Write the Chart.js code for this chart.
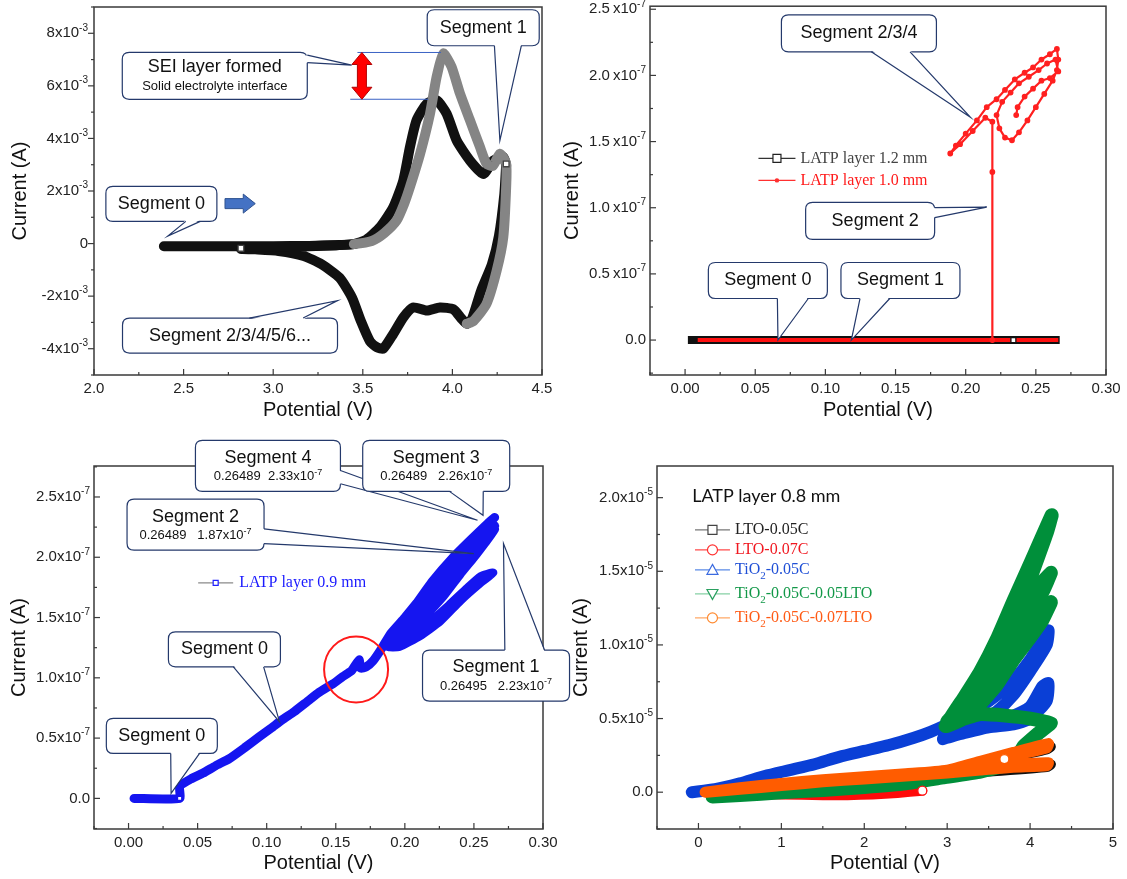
<!DOCTYPE html>
<html>
<head>
<meta charset="utf-8">
<script src="https://cdn.jsdelivr.net/npm/chart.js"></script>
<style>
  html, body { margin: 0; padding: 0; background: #fff; }
  #page { position: relative; width: 1127px; height: 879px; overflow: hidden; background: #fff; }
  canvas { position: absolute; }
</style>
</head>
<body>
<div id="page">
  <canvas id="cvA" width="560" height="430" style="left:0px;top:0px"></canvas>
  <canvas id="cvB" width="567" height="430" style="left:560px;top:0px"></canvas>
  <canvas id="cvC" width="580" height="449" style="left:0px;top:430px"></canvas>
  <canvas id="cvD" width="567" height="449" style="left:560px;top:430px"></canvas>
</div>
<script>
/* Panel A - CV, current in units of 1e-3 A */
var aSweepV = [2.39, 2.60, 2.80, 3.00, 3.20, 3.35, 3.45, 3.55, 3.62, 3.689, 3.73, 3.763, 3.82, 3.875, 3.912, 3.949, 3.995, 4.042, 4.098, 4.154, 4.19, 4.225, 4.266, 4.30, 4.30, 4.284, 4.247, 4.19, 4.117, 4.08];
var aSweepI = [-0.10, -0.10, -0.10, -0.10, -0.09, -0.06, -0.02, 0.10, 0.40, 0.88, 1.50, 2.15, 3.42, 4.94, 6.34, 7.23, 6.73, 5.71, 4.69, 3.67, 3.04, 2.95, 3.42, 3.04, 2.15, 0.24, -1.03, -2.30, -2.95, -3.05];
var aCycleV = [4.30, 4.29, 4.26, 4.22, 4.16, 4.11, 4.08, 4.05, 4.005, 3.93, 3.857, 3.78, 3.726, 3.67, 3.614, 3.58, 3.54, 3.49, 3.44, 3.37, 3.27, 3.17, 3.03, 2.90, 2.82,
               3.00, 3.20, 3.35, 3.45, 3.52, 3.596, 3.67, 3.726, 3.763, 3.80, 3.857, 3.912, 3.968, 4.024, 4.098, 4.173, 4.228, 4.284, 4.30];
var aCycleI = [3.00, 1.90, 0.30, -0.80, -1.80, -2.85, -3.05, -2.85, -2.50, -2.43, -2.55, -2.43, -2.81, -3.44, -4.00, -3.95, -3.72, -2.96, -2.06, -1.30, -0.79, -0.47, -0.28, -0.22, -0.20,
               -0.14, -0.10, -0.06, -0.02, 0.15, 0.62, 1.38, 2.40, 3.67, 4.69, 5.32, 5.45, 4.94, 3.92, 3.16, 2.65, 3.16, 3.29, 3.00];
var aMarkV = [2.82, 4.30];
var aMarkI = [-0.18, 3.03];

/* Panel B - LATP 1.2 / 1.0 mm, units of 1e-7 A */
var bThickV = [0.002, 0.267];
var bThickI = [0, 0];
var bFlatV = [0.009, 0.219, 0.266];
var bFlatI = [0, 0, 0];
var bLoopV = [0.219, 0.219, 0.219, 0.214, 0.205, 0.196, 0.189, 0.193, 0.200, 0.208, 0.215, 0.222, 0.228, 0.235, 0.242, 0.248, 0.254, 0.260, 0.265, 0.266, 0.265, 0.262,
              0.256, 0.250, 0.244, 0.238, 0.233, 0.228, 0.224, 0.222, 0.226, 0.232, 0.238, 0.245, 0.252, 0.258, 0.264, 0.266, 0.260, 0.254, 0.248, 0.242, 0.237, 0.236];
var bLoopI = [0.00, 1.27, 1.65, 1.68, 1.58, 1.48, 1.41, 1.47, 1.56, 1.66, 1.76, 1.82, 1.89, 1.97, 2.02, 2.06, 2.12, 2.16, 2.20, 2.12, 2.04, 1.96,
              1.86, 1.76, 1.66, 1.57, 1.51, 1.53, 1.60, 1.70, 1.80, 1.87, 1.94, 1.99, 2.04, 2.09, 2.12, 2.03, 1.98, 1.96, 1.90, 1.84, 1.76, 1.70];
var bMarkV = [0.234];
var bMarkI = [0];

/* Panel C - LATP 0.9 mm, units of 1e-7 A */
var cV = [0.004, 0.037, 0.037, 0.045, 0.054, 0.063, 0.073, 0.084, 0.0945, 0.103, 0.111, 0.120, 0.129, 0.138, 0.148, 0.155, 0.1615, 0.1669, 0.168, 0.172,
          0.177, 0.183, 0.190, 0.200, 0.210, 0.220, 0.230, 0.240, 0.250, 0.258, 0.265, 0.258, 0.250, 0.240, 0.228, 0.215, 0.200, 0.188, 0.196, 0.211,
          0.2254, 0.240, 0.2543, 0.2637, 0.255, 0.245, 0.232, 0.218, 0.205, 0.192, 0.205, 0.220, 0.235, 0.250, 0.260, 0.265, 0.258, 0.248, 0.238, 0.225,
          0.210, 0.195, 0.205, 0.220, 0.235, 0.250, 0.260, 0.265];
var cI = [0.00, 0.00, 0.10, 0.16, 0.21, 0.27, 0.33, 0.42, 0.51, 0.58, 0.65, 0.72, 0.80, 0.88, 0.95, 1.01, 1.06, 1.15, 1.08, 1.09,
          1.14, 1.24, 1.37, 1.50, 1.64, 1.78, 1.91, 2.03, 2.12, 2.18, 2.23, 2.12, 2.00, 1.86, 1.68, 1.52, 1.36, 1.26, 1.26, 1.35,
          1.47, 1.64, 1.785, 1.87, 1.84, 1.74, 1.60, 1.46, 1.36, 1.28, 1.52, 1.75, 1.96, 2.12, 2.21, 2.26, 2.16, 2.04, 1.92, 1.75,
          1.56, 1.40, 1.56, 1.80, 2.00, 2.17, 2.28, 2.33];
var cMarkV = [0.037];
var cMarkI = [0];

/* Panel D - LATP 0.8 mm, units of 1e-5 A */
var dBlackV = [0.10, 0.50, 1.00, 1.50, 2.00, 2.50, 3.00, 3.50, 4.00, 4.25, 4.20, 3.80, 3.50, 3.80, 4.25, 4.20, 3.50, 3.00, 2.00, 1.00, 0.10];
var dBlackI = [0.00, 0.025, 0.05, 0.075, 0.10, 0.12, 0.145, 0.20, 0.27, 0.31, 0.29, 0.24, 0.18, 0.18, 0.19, 0.17, 0.14, 0.12, 0.085, 0.04, 0.00];
var dRedV = [0.10, 0.50, 1.00, 1.50, 1.80, 2.10, 2.40, 2.70];
var dRedI = [0.00, -0.01, -0.015, -0.02, -0.02, -0.015, -0.005, 0.01];
var dBlueV = [-0.08, 0.20, 0.50, 0.80, 1.10, 1.40, 1.70, 2.00, 2.30, 2.60, 2.80, 3.00, 3.20, 3.40, 3.60, 3.80, 4.00, 4.22, 4.20, 4.00,
              3.80, 3.60, 3.40, 3.20, 3.00, 2.95, 3.20, 3.50, 3.80, 4.00, 4.15, 4.22, 4.20, 4.00, 3.80, 3.50, 3.20, 3.00];
var dBlueI = [0.00, 0.02, 0.06, 0.11, 0.15, 0.19, 0.24, 0.28, 0.32, 0.37, 0.41, 0.46, 0.52, 0.58, 0.66, 0.76, 0.90, 1.10, 1.00, 0.82,
              0.66, 0.55, 0.48, 0.44, 0.40, 0.36, 0.42, 0.47, 0.52, 0.58, 0.72, 0.74, 0.62, 0.50, 0.46, 0.44, 0.40, 0.37];
var dGreenV = [0.17, 0.50, 1.00, 1.50, 2.00, 2.50, 2.95, 3.40, 3.80, 3.92, 4.10, 4.25, 4.00, 3.70, 3.40, 3.20, 2.98,
               3.20, 3.40, 3.60, 3.80, 4.00, 4.26, 4.20, 4.00, 3.80, 3.60, 3.40, 3.20, 3.00,
               3.20, 3.40, 3.60, 3.80, 4.00, 4.25, 4.15, 4.00, 3.80, 3.60, 3.40, 3.20, 3.00,
               3.20, 3.40, 3.60, 3.80, 4.00, 4.25, 4.15, 4.00, 3.80, 3.60, 3.40, 3.20, 3.00];
var dGreenI = [-0.03, -0.02, 0.00, 0.015, 0.035, 0.06, 0.10, 0.14, 0.20, 0.31, 0.40, 0.47, 0.50, 0.52, 0.53, 0.50, 0.45,
               0.64, 0.82, 1.04, 1.30, 1.55, 1.88, 1.76, 1.45, 1.22, 0.98, 0.77, 0.60, 0.48,
               0.58, 0.73, 0.92, 1.14, 1.33, 1.49, 1.36, 1.24, 1.06, 0.86, 0.69, 0.55, 0.47,
               0.53, 0.65, 0.80, 0.98, 1.13, 1.29, 1.17, 1.05, 0.90, 0.73, 0.60, 0.50, 0.45];
var dOrangeV = [0.08, 0.50, 1.00, 1.50, 2.00, 2.50, 3.00, 3.40, 3.80, 4.22, 4.20, 3.80, 3.40, 3.00, 3.40, 3.80, 4.22, 4.20, 3.80, 3.40, 3.00, 2.50, 2.00, 1.50, 1.00, 0.50, 0.10];
var dOrangeI = [0.00, 0.03, 0.06, 0.085, 0.105, 0.125, 0.15, 0.21, 0.27, 0.33, 0.30, 0.25, 0.19, 0.14, 0.17, 0.19, 0.20, 0.18, 0.17, 0.15, 0.13, 0.11, 0.09, 0.07, 0.045, 0.02, 0.00];
var dMarkV = [2.70, 3.69];
var dMarkI = [0.01, 0.225];

var FONT = '"Liberation Sans", Arial, sans-serif';
var SERIF = '"Liberation Serif", "Times New Roman", serif';
var NAVY = '#24396b';
Chart.defaults.font.family = FONT;

/* helpers */
var pts = function (xs, ys, k) {
    return xs.map(function (x, i) { return { x: x, y: ys[i] * k }; });
};

var band = function (xs, ys, k, color, width, extra) {
    var d = {
        data: pts(xs, ys, k), showLine: true, borderColor: color, backgroundColor: color,
        borderWidth: width, pointRadius: 0, tension: 0.2, fill: false,
        borderCapStyle: 'round', borderJoinStyle: 'round'
    };
    for (var key in (extra || {})) d[key] = extra[key];
    return d;
};

var marks = function (xs, ys, k, colors, style, r) {
    return {
        data: pts(xs, ys, k), showLine: false, pointStyle: style, pointRadius: r,
        pointBackgroundColor: '#fff', pointBorderColor: colors, pointBorderWidth: 1.3
    };
};

var isMajor = function (v, m) {
    return Math.abs(v / m - Math.round(v / m)) < 1e-6;
};

var richParts = function (str) {
    var parts = [], re = /([\^_])\{([^}]*)\}/g, last = 0, m;
    while ((m = re.exec(str))) {
        if (m.index > last) parts.push({ t: str.slice(last, m.index), k: 0 });
        parts.push({ t: m[2], k: m[1] === '^' ? 1 : -1 });
        last = re.lastIndex;
    }
    if (last < str.length) parts.push({ t: str.slice(last), k: 0 });
    return parts;
};

var drawRich = function (ctx, str, x, y, size, family, color, align) {
    var parts = richParts(str), w = 0;
    parts.forEach(function (p) {
        p.size = p.k ? Math.round(size * 0.68) : size;
        ctx.font = p.size + 'px ' + family;
        p.w = ctx.measureText(p.t).width;
        w += p.w;
    });
    var cx = align === 'right' ? x - w : (align === 'center' ? x - w / 2 : x);
    ctx.fillStyle = color;
    ctx.textBaseline = 'middle';
    ctx.textAlign = 'left';
    parts.forEach(function (p) {
        ctx.font = p.size + 'px ' + family;
        ctx.fillText(p.t, cx, y - p.k * size * 0.36);
        cx += p.w;
    });
};

var roundRect = function (ctx, x, y, w, h, r) {
    ctx.beginPath();
    ctx.moveTo(x + r, y);
    ctx.lineTo(x + w - r, y); ctx.quadraticCurveTo(x + w, y, x + w, y + r);
    ctx.lineTo(x + w, y + h - r); ctx.quadraticCurveTo(x + w, y + h, x + w - r, y + h);
    ctx.lineTo(x + r, y + h); ctx.quadraticCurveTo(x, y + h, x, y + h - r);
    ctx.lineTo(x, y + r); ctx.quadraticCurveTo(x, y, x + r, y);
    ctx.closePath();
};

var drawMarker = function (ctx, kind, x, y, s, color) {
    ctx.save();
    ctx.strokeStyle = color; ctx.fillStyle = '#fff'; ctx.lineWidth = 1.2;
    ctx.beginPath();
    if (kind === 'rect') ctx.rect(x - s, y - s, 2 * s, 2 * s);
    else if (kind === 'circle') ctx.arc(x, y, s, 0, Math.PI * 2);
    else if (kind === 'tri') { ctx.moveTo(x, y - s); ctx.lineTo(x + s, y + s * 0.8); ctx.lineTo(x - s, y + s * 0.8); ctx.closePath(); }
    else if (kind === 'triDown') { ctx.moveTo(x, y + s); ctx.lineTo(x + s, y - s * 0.8); ctx.lineTo(x - s, y - s * 0.8); ctx.closePath(); }
    else if (kind === 'dot') { ctx.arc(x, y, s, 0, Math.PI * 2); ctx.fillStyle = color; }
    ctx.fill(); ctx.stroke();
    ctx.restore();
};

var drawCallout = function (ctx, c, px, py) {
    var cx = px(c.at[0]), cy = py(c.at[1]);
    var x = cx - c.w / 2, y = cy - c.h / 2, b1, b2, n;
    if (c.side === 'bottom') { b1 = [x + c.w * c.f[0], y + c.h]; b2 = [x + c.w * c.f[1], y + c.h]; n = [0, -1.5]; }
    else if (c.side === 'top') { b1 = [x + c.w * c.f[0], y]; b2 = [x + c.w * c.f[1], y]; n = [0, 1.5]; }
    else if (c.side === 'right') { b1 = [x + c.w, y + c.h * c.f[0]]; b2 = [x + c.w, y + c.h * c.f[1]]; n = [-1.5, 0]; }
    else { b1 = [x, y + c.h * c.f[0]]; b2 = [x, y + c.h * c.f[1]]; n = [1.5, 0]; }
    var tx = px(c.tip[0]), ty = py(c.tip[1]);
    ctx.lineWidth = 1.2; ctx.strokeStyle = NAVY; ctx.fillStyle = '#fff';
    roundRect(ctx, x, y, c.w, c.h, 7);
    ctx.fill(); ctx.stroke();
    ctx.beginPath();
    ctx.moveTo(b1[0] + n[0], b1[1] + n[1]); ctx.lineTo(tx, ty); ctx.lineTo(b2[0] + n[0], b2[1] + n[1]);
    ctx.closePath(); ctx.fill();
    ctx.beginPath();
    ctx.moveTo(b1[0], b1[1]); ctx.lineTo(tx, ty); ctx.lineTo(b2[0], b2[1]);
    ctx.stroke();
    c.lines.forEach(function (l) {
        drawRich(ctx, l.text, cx + (l.dx || 0), cy + l.dy, l.size, FONT, '#111', 'center');
    });
};

var drawShape = function (ctx, s, px, py) {
    ctx.save();
    if (s.type === 'hline') {
        ctx.strokeStyle = s.color; ctx.lineWidth = s.width;
        ctx.beginPath(); ctx.moveTo(px(s.x1), py(s.y)); ctx.lineTo(px(s.x2), py(s.y)); ctx.stroke();
    } else if (s.type === 'ellipse') {
        ctx.strokeStyle = s.color; ctx.lineWidth = s.width;
        ctx.beginPath(); ctx.ellipse(px(s.x), py(s.y), s.rx, s.ry, 0, 0, Math.PI * 2); ctx.stroke();
    } else if (s.type === 'blockArrow') {
        var x1 = px(s.x1), x2 = px(s.x2), y = py(s.y), hx = x2 - s.headLen;
        ctx.beginPath();
        ctx.moveTo(x1, y - s.body / 2); ctx.lineTo(hx, y - s.body / 2); ctx.lineTo(hx, y - s.head / 2);
        ctx.lineTo(x2, y); ctx.lineTo(hx, y + s.head / 2); ctx.lineTo(hx, y + s.body / 2);
        ctx.lineTo(x1, y + s.body / 2); ctx.closePath();
        ctx.fillStyle = s.fill; ctx.strokeStyle = s.stroke; ctx.lineWidth = 1;
        ctx.fill(); ctx.stroke();
    } else if (s.type === 'dblArrow') {
        var x = px(s.x), ya = py(s.y1), yb = py(s.y2);
        ctx.beginPath();
        ctx.moveTo(x, ya); ctx.lineTo(x + s.head / 2, ya + s.headLen); ctx.lineTo(x + s.body / 2, ya + s.headLen);
        ctx.lineTo(x + s.body / 2, yb - s.headLen); ctx.lineTo(x + s.head / 2, yb - s.headLen); ctx.lineTo(x, yb);
        ctx.lineTo(x - s.head / 2, yb - s.headLen); ctx.lineTo(x - s.body / 2, yb - s.headLen);
        ctx.lineTo(x - s.body / 2, ya + s.headLen); ctx.lineTo(x - s.head / 2, ya + s.headLen); ctx.closePath();
        ctx.fillStyle = s.fill; ctx.strokeStyle = s.stroke; ctx.lineWidth = 1;
        ctx.fill(); ctx.stroke();
    }
    ctx.restore();
};

var drawLegend = function (ctx, L, px, py) {
    if (L.title) drawRich(ctx, L.title.text, px(L.title.at[0]), py(L.title.at[1]), L.title.size, L.title.family, '#111', 'left');
    var x0 = px(L.at[0]), y0 = py(L.at[1]);
    L.items.forEach(function (it, i) {
        var y = y0 + L.rows[i];
        ctx.strokeStyle = it.color; ctx.lineWidth = 1.2;
        ctx.beginPath(); ctx.moveTo(x0, y); ctx.lineTo(x0 + L.len, y); ctx.stroke();
        drawMarker(ctx, it.marker, x0 + L.len / 2, y, it.msize, it.mcolor);
        drawRich(ctx, it.text, x0 + L.textOff, y, L.size, SERIF, it.tcolor, 'left');
    });
};

/* axes, frame, ticks and annotations on top of the library drawing */
var overlay = function (s) {
    return {
        id: 'overlay',
        afterDraw: function (chart) {
            var ctx = chart.ctx, a = chart.chartArea, xs = chart.scales.x, ys = chart.scales.y;
            var px = function (v) { return xs.getPixelForValue(v); };
            var py = function (v) { return ys.getPixelForValue(v * s.unit); };
            ctx.save();
            ctx.strokeStyle = '#3a3a3a'; ctx.lineWidth = 1.5;
            ctx.strokeRect(a.left, a.top, a.right - a.left, a.bottom - a.top);
            ctx.lineWidth = 1.2;
            xs.ticks.forEach(function (t) {
                var x = xs.getPixelForValue(t.value), len = isMajor(t.value, s.x.major) ? 6 : 3;
                ctx.strokeStyle = '#3a3a3a';
                ctx.beginPath(); ctx.moveTo(x, a.bottom); ctx.lineTo(x, a.bottom - len); ctx.stroke();
            });
            ys.ticks.forEach(function (t) {
                var y = ys.getPixelForValue(t.value), major = isMajor(t.value, s.y.major * s.unit);
                var len = major ? 6 : 3, dir = s.y.out ? -1 : 1;
                ctx.strokeStyle = '#3a3a3a';
                ctx.beginPath(); ctx.moveTo(a.left, y); ctx.lineTo(a.left + dir * len, y); ctx.stroke();
                if (major) drawRich(ctx, s.y.fmt(t.value / s.unit), a.left - s.y.gap, y, 15, FONT, '#222', 'right');
            });
            (s.shapes || []).forEach(function (sh) { drawShape(ctx, sh, px, py); });
            (s.callouts || []).forEach(function (c) { drawCallout(ctx, c, px, py); });
            if (s.legend) drawLegend(ctx, s.legend, px, py);
            ctx.restore();
        }
    };
};

var makeChart = function (s, datasets) {
    return new Chart(document.getElementById(s.canvas), {
        type: 'scatter',
        data: { datasets: datasets },
        options: {
            responsive: false,
            animation: false,
            events: [],
            layout: { padding: { left: 0, top: s.area.top, right: s.w - s.area.right, bottom: 0 } },
            plugins: { legend: { display: false }, tooltip: { enabled: false } },
            scales: {
                x: {
                    type: 'linear', min: s.x.min, max: s.x.max,
                    afterFit: function (sc) { sc.height = s.h - s.area.bottom; },
                    grid: { display: false, drawTicks: false }, border: { display: false },
                    ticks: {
                        stepSize: s.x.minor, includeBounds: false, autoSkip: false, maxRotation: 0, minRotation: 0,
                        padding: 5, color: '#222', font: { size: 15 },
                        callback: function (v) { return isMajor(v, s.x.major) && v > -1e-9 ? Number(v).toFixed(s.x.dec) : ''; }
                    },
                    title: { display: true, text: 'Potential (V)', color: '#111', font: { size: 20 }, padding: { top: 0, bottom: s.x.titlePad } }
                },
                y: {
                    type: 'linear', min: s.y.min * s.unit, max: s.y.max * s.unit,
                    afterFit: function (sc) { sc.width = s.area.left; },
                    grid: { display: false, drawTicks: false }, border: { display: false },
                    ticks: { stepSize: s.y.minor * s.unit, includeBounds: false, display: false },
                    title: { display: true, text: 'Current (A)', color: '#111', font: { size: 20 }, padding: { top: s.y.titlePad, bottom: 0 } }
                }
            }
        },
        plugins: [overlay(s)]
    });
};

/* Panel A */
var setupA = {
    canvas: 'cvA', w: 560, h: 430, area: { left: 94, top: 7, right: 542, bottom: 375 }, unit: 1e-3,
    x: { min: 2.0, max: 4.5, minor: 0.25, major: 0.5, dec: 1, titlePad: 8 },
    y: { min: -5, max: 9, minor: 1, major: 2, titlePad: 8, out: true, gap: 6,
         fmt: function (m) { return Math.abs(m) < 1e-9 ? '0' : Math.round(m) + 'x10^{-3}'; } },
    shapes: [
        { type: 'hline', x1: 3.47, x2: 3.936, y: 7.27, color: '#3a62c4', width: 1 },
        { type: 'hline', x1: 3.43, x2: 3.865, y: 5.49, color: '#3a62c4', width: 1 },
        { type: 'dblArrow', x: 3.495, y1: 7.27, y2: 5.49, body: 9, head: 20, headLen: 12, fill: '#ff0000', stroke: '#b00000' },
        { type: 'blockArrow', x1: 2.731, x2: 2.90, y: 1.52, body: 10, head: 19, headLen: 12, fill: '#4472c4', stroke: '#2f528f' }
    ],
    callouts: [
        { at: [4.172, 8.21], w: 112, h: 36, lines: [{ text: 'Segment 1', size: 18, dy: 0 }], side: 'bottom', f: [0.60, 0.84], tip: [4.265, 3.92] },
        { at: [2.674, 6.38], w: 185, h: 47, lines: [{ text: 'SEI layer formed', size: 18, dy: -9 }, { text: 'Solid electrolyte interface', size: 13, dy: 11 }],
          side: 'right', f: [0.06, 0.22], tip: [3.438, 6.79] },
        { at: [2.376, 1.51], w: 111, h: 35, lines: [{ text: 'Segment 0', size: 18, dy: 0 }], side: 'bottom', f: [0.72, 0.85], tip: [2.412, 0.29] },
        { at: [2.759, -3.50], w: 215, h: 35, lines: [{ text: 'Segment 2/3/4/5/6...', size: 18, dy: 0 }], side: 'top', f: [0.59, 0.84], tip: [3.359, -2.17] }
    ]
};
makeChart(setupA, [
    marks(aMarkV, aMarkI, 1e-3, '#444', 'rect', 4),
    band(aSweepV, aSweepI, 1e-3, '#858585', 10, {
        segment: { borderColor: function (c) { return c.p1.parsed.x < 3.5 ? '#111' : '#858585'; } }
    }),
    band(aCycleV, aCycleI, 1e-3, '#111', 10)
]);

/* Panel B */
var setupB = {
    canvas: 'cvB', w: 567, h: 430, area: { left: 90, top: 5, right: 546, bottom: 375 }, unit: 1e-7,
    x: { min: -0.025, max: 0.30, minor: 0.025, major: 0.05, dec: 2, titlePad: 8 },
    y: { min: -0.264, max: 2.523, minor: 0.25, major: 0.5, titlePad: 0, gap: 4,
         fmt: function (m) { return Math.abs(m) < 1e-9 ? '0.0' : m.toFixed(1) + '\u2009x10^{-7}'; } },
    callouts: [
        { at: [0.1239, 2.318], w: 155, h: 37, lines: [{ text: 'Segment 2/3/4', size: 18, dy: 0 }], side: 'bottom', f: [0.58, 0.83], tip: [0.2034, 1.684] },
        { at: [0.1319, 0.900], w: 129, h: 37, lines: [{ text: 'Segment 2', size: 18, dy: 0, dx: 5 }], side: 'right', f: [0.14, 0.41], tip: [0.215, 1.005] },
        { at: [0.059, 0.45], w: 119, h: 36, lines: [{ text: 'Segment 0', size: 18, dy: 0 }], side: 'bottom', f: [0.58, 0.84], tip: [0.0662, 0] },
        { at: [0.1535, 0.45], w: 119, h: 36, lines: [{ text: 'Segment 1', size: 18, dy: 0 }], side: 'bottom', f: [0.16, 0.41], tip: [0.1185, 0] }
    ],
    legend: {
        at: [0.0523, 1.373], len: 37, textOff: 42, size: 16, rows: [0, 22],
        items: [
            { text: 'LATP layer 1.2 mm', color: '#333', marker: 'rect', msize: 4, mcolor: '#222', tcolor: '#444' },
            { text: 'LATP layer 1.0 mm', color: '#ff3030', marker: 'dot', msize: 1.6, mcolor: '#ff3030', tcolor: '#ff1a1a' }
        ]
    }
};
makeChart(setupB, [
    marks(bMarkV, bMarkI, 1e-7, '#111', 'rect', 3.5),
    band(bLoopV, bLoopI, 1e-7, '#ff2020', 2.2, { tension: 0, pointRadius: 1.8, pointBackgroundColor: '#ff2020', pointBorderColor: '#ff2020' }),
    band(bFlatV, bFlatI, 1e-7, '#ff1010', 4, { tension: 0, borderCapStyle: 'butt' }),
    band(bThickV, bThickI, 1e-7, '#111', 8, { tension: 0, borderCapStyle: 'butt' })
]);

/* Panel C */
var setupC = {
    canvas: 'cvC', w: 580, h: 449, area: { left: 94, top: 36, right: 543, bottom: 399 }, unit: 1e-7,
    x: { min: -0.025, max: 0.30, minor: 0.025, major: 0.05, dec: 2, titlePad: 4 },
    y: { min: -0.254, max: 2.757, minor: 0.25, major: 0.5, titlePad: 7, gap: 4,
         fmt: function (m) { return Math.abs(m) < 1e-9 ? '0.0' : m.toFixed(1) + 'x10^{-7}'; } },
    shapes: [
        { type: 'ellipse', x: 0.1647, y: 1.069, rx: 32, ry: 33, color: '#ff1a1a', width: 2 }
    ],
    callouts: [
        { at: [0.1009, 2.758], w: 145, h: 51, lines: [{ text: 'Segment 4', size: 18, dy: -8 }, { text: '0.26489  2.33x10^{-7}', size: 13, dy: 11 }],
          side: 'right', f: [0.59, 0.85], tip: [0.2526, 2.307] },
        { at: [0.2227, 2.758], w: 147, h: 51, lines: [{ text: 'Segment 3', size: 18, dy: -8 }, { text: '0.26489   2.26x10^{-7}', size: 13, dy: 11 }],
          side: 'bottom', f: [0.59, 0.82], tip: [0.2566, 2.348] },
        { at: [0.0485, 2.270], w: 137, h: 51, lines: [{ text: 'Segment 2', size: 18, dy: -8 }, { text: '0.26489   1.87x10^{-7}', size: 13, dy: 11 }],
          side: 'right', f: [0.58, 0.87], tip: [0.2499, 2.030] },
        { at: [0.266, 1.019], w: 147, h: 51, lines: [{ text: 'Segment 1', size: 18, dy: -8 }, { text: '0.26495   2.23x10^{-7}', size: 13, dy: 11 }],
          side: 'top', f: [0.56, 0.83], tip: [0.2714, 2.113] },
        { at: [0.0694, 1.236], w: 112, h: 35, lines: [{ text: 'Segment 0', size: 18, dy: 0 }], side: 'bottom', f: [0.58, 0.85], tip: [0.1093, 0.635] },
        { at: [0.0241, 0.518], w: 111, h: 35, lines: [{ text: 'Segment 0', size: 18, dy: 0 }], side: 'bottom', f: [0.58, 0.84], tip: [0.0308, 0.041] }
    ],
    legend: {
        at: [0.0504, 1.787], len: 35, textOff: 41, size: 16, rows: [0],
        items: [{ text: 'LATP layer 0.9 mm', color: '#8a8a8a', marker: 'rect', msize: 2.5, mcolor: '#2020ff', tcolor: '#1a1aff' }]
    }
};
makeChart(setupC, [
    marks(cMarkV, cMarkI, 1e-7, '#1515f0', 'rect', 3),
    band(cV, cI, 1e-7, '#1515f0', 9, { tension: 0.15 })
]);

/* Panel D */
var setupD = {
    canvas: 'cvD', w: 567, h: 449, area: { left: 97, top: 36, right: 553, bottom: 399 }, unit: 1e-5,
    x: { min: -0.5, max: 5, minor: 0.5, major: 1, dec: 0, titlePad: 4 },
    y: { min: -0.25, max: 2.215, minor: 0.25, major: 0.5, titlePad: 9, gap: 4,
         fmt: function (m) { return Math.abs(m) < 1e-9 ? '0.0' : m.toFixed(1) + 'x10^{-5}'; } },
    legend: {
        title: { text: 'LATP layer 0.8 mm', at: [-0.076, 2.007], size: 18, family: 'Lato, "Liberation Sans", sans-serif' },
        at: [-0.042, 1.781], len: 35, textOff: 40, size: 16, rows: [0, 20, 40, 64, 88],
        items: [
            { text: 'LTO-0.05C', color: '#777', marker: 'rect', msize: 4.5, mcolor: '#444', tcolor: '#222' },
            { text: 'LTO-0.07C', color: '#ff4a4a', marker: 'circle', msize: 5, mcolor: '#ff3030', tcolor: '#f01820' },
            { text: 'TiO_{2}-0.05C', color: '#5a8ae6', marker: 'tri', msize: 5.5, mcolor: '#3a6ae0', tcolor: '#1f4fd6' },
            { text: 'TiO_{2}-0.05C-0.05LTO', color: '#86d0a4', marker: 'triDown', msize: 5.5, mcolor: '#2aa060', tcolor: '#129848' },
            { text: 'TiO_{2}-0.05C-0.07LTO', color: '#ffa866', marker: 'circle', msize: 5, mcolor: '#ff8a30', tcolor: '#ff5a14' }
        ]
    }
};
var dMarks = marks(dMarkV, dMarkI, 1e-5, ['#ff1010', '#ff5c00'], 'circle', 4.5);
dMarks.order = 0;
makeChart(setupD, [
    band(dBlackV, dBlackI, 1e-5, '#111', 10, { order: 5 }),
    band(dRedV, dRedI, 1e-5, '#ff0a0a', 10, { order: 4 }),
    band(dBlueV, dBlueI, 1e-5, '#0a3fd6', 12, { order: 3 }),
    band(dGreenV, dGreenI, 1e-5, '#008f3a', 14, { order: 2, tension: 0.1 }),
    band(dOrangeV, dOrangeI, 1e-5, '#ff5c00', 11, { order: 1 }),
    dMarks
]);
</script>
</body>
</html>
